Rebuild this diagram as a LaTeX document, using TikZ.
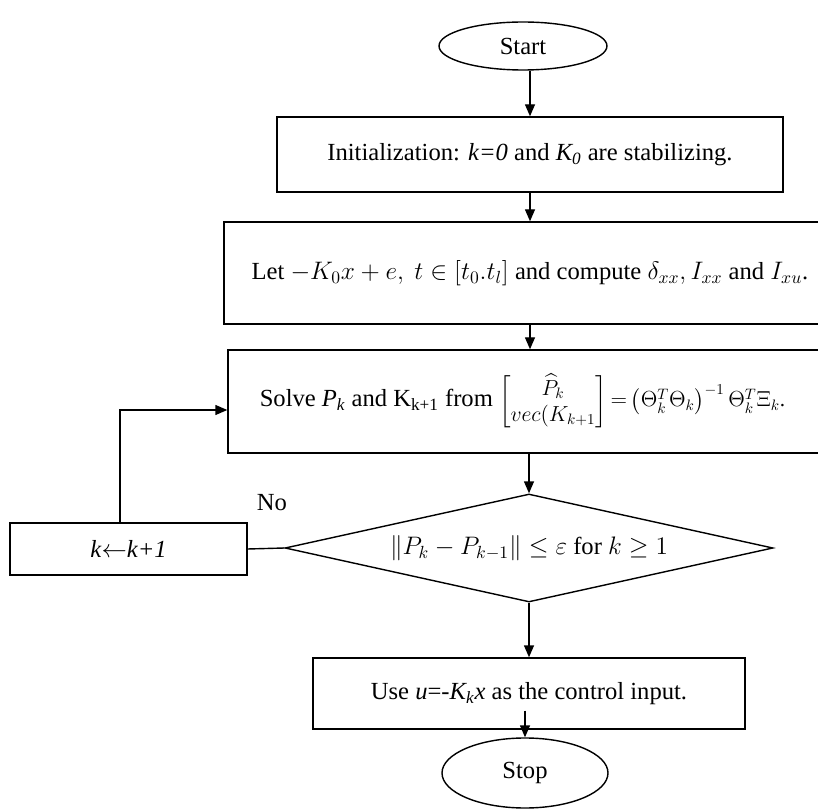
\documentclass[tikz,border=0pt]{standalone}
\usepackage{amsmath}
\usepackage{fontspec}
\setmainfont{Liberation Serif}
\usepackage{tikz}
\usetikzlibrary{arrows.meta,positioning,shapes.geometric}

\begin{document}
\begin{tikzpicture}[
    box/.style={draw, rectangle, align=center, line width=0.8pt, font=\fontsize{14}{17}\selectfont},
    term/.style={draw, ellipse, line width=0.8pt, font=\fontsize{14}{17}\selectfont},
    decide/.style={draw, diamond, aspect=4.52, inner sep=0pt, line width=0.8pt, font=\fontsize{14}{17}\selectfont},
    arr/.style={-{Triangle[length=2.4mm, width=2mm]}, line width=0.8pt}
]
\useasboundingbox (0,0) rectangle (16.36,-16.2);
\node[term, minimum width=3.36cm, minimum height=0.96cm] (start) at (10.46,-0.92) {Start};
\node[box, minimum width=10.12cm, minimum height=1.5cm] (init) at (10.6,-3.09) {Initialization: \textit{k=0} and \textit{K\textsubscript{0}} are stabilizing.};
\node[box, minimum width=12.24cm, minimum height=2.04cm] (let) at (10.6,-5.46) {Let $-K_0x+e,\ t\in\left[t_0.t_l\right]$ and compute $\delta_{xx}, I_{xx}$ and $I_{xu}$.};
\node[box, minimum width=12.08cm, minimum height=2.06cm] (solve) at (10.6,-8.03) {Solve \textit{P\textsubscript{k}} and K\textsubscript{k+1} from \scalebox{0.86}{$\left[\begin{matrix}\widehat{P}_k\\ vec(K_{k+1}\end{matrix}\right]{=}\left(\Theta_k^T\Theta_k\right)^{-1}\Theta_k^T\Xi_k$.}\hspace*{0.3cm}};
\node[decide, minimum width=9.76cm, minimum height=2.16cm] (check) at (10.58,-10.96) {$\left\|P_k-P_{k-1}\right\|\le\varepsilon$ for $k\ge1$};
\node[box, minimum width=4.74cm, minimum height=1.04cm] (upd) at (2.57,-10.98) {\textit{k}$\leftarrow$\textit{k+1}};
\node[box, minimum width=8.64cm, minimum height=1.42cm] (use) at (10.58,-13.87) {Use \textit{u}=-\textit{K\textsubscript{k}x} as the control input.};
\node[term, minimum width=3.32cm, minimum height=1.4cm] (stop) at (10.5,-15.46) {Stop};
\node[font=\fontsize{14}{17}\selectfont] (no) at (5.44,-10.06) {No};
\draw[arr] (start.south -| init.north) -- (init.north);
\draw[arr] (init) -- (let);
\draw[arr] (let) -- (solve);
\draw[arr] (solve.south -| check.north) -- (check.north);
\draw[line width=0.8pt] (check.west) -- (upd.east);
\draw[arr] ([xshift=-0.17cm]upd.north) |- ([yshift=-0.17cm]solve.west);
\draw[arr] (check.south) -- (use.north);
\draw[arr] ([yshift=0.38cm]use.south -| stop.north) -- (stop.north);
\end{tikzpicture}
\end{document}
